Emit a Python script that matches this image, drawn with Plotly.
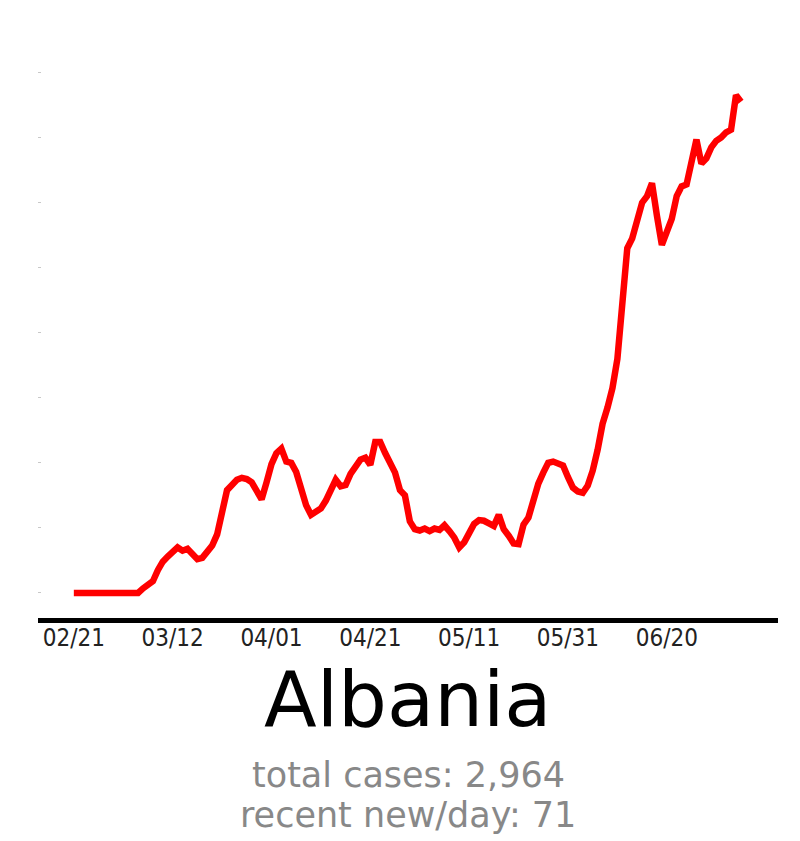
import pandas as pd
import plotly.graph_objects as go

# smoothed new cases per day, Albania, from 2020-02-21
start_date = "2020-02-21"
new_per_day = [
    0, 0, 0, 0, 0, 0, 0, 0, 0, 0, 0, 0, 0, 0,
    0.7, 1.2, 1.8, 3.5, 4.8, 5.6, 6.3, 7.0, 6.5, 6.8, 6.0, 5.2, 5.4, 6.5, 7.3, 9.0,
    13.0, 15.8, 16.6, 17.4, 17.7, 17.5, 17.0, 15.5, 14.4, 17.0,
    19.8, 21.5, 22.2, 20.2, 20.0, 18.6, 16.0, 13.5, 12.0, 12.6,
    13.0, 14.2, 16.0, 17.4, 16.4, 16.6, 18.3, 19.5, 20.5, 20.8,
    19.7, 23.2, 23.2, 21.5, 20.0, 18.5, 15.8, 15.0, 11.0, 9.8,
    9.6, 9.9, 9.5, 9.9, 9.7, 10.4, 9.5, 8.5, 7.0, 7.8,
    9.2, 10.6, 11.2, 11.1, 10.7, 10.3, 12.0, 9.8, 8.8, 7.6,
    7.5, 10.5, 11.6, 14.5, 16.8, 18.5, 20.0, 20.2, 19.8, 19.6,
    17.8, 16.2, 15.6, 15.4, 16.5, 18.8, 22.0, 26.0, 28.5, 31.5,
    36.0, 45.0, 53.0, 54.5, 57.5, 60.0, 61.0, 63.0, 58.0, 53.5,
    55.5, 57.5, 61.0, 62.5, 62.8, 66.5, 69.7, 66.0, 66.8, 68.5,
    69.5, 70.0, 70.8, 71.2, 76.5, 75.5,
]
tick_dates = ["2020-02-21", "2020-03-12", "2020-04-01", "2020-04-21",
              "2020-05-11", "2020-05-31", "2020-06-20"]
country = "Albania"
total_cases = 2964
recent_new = 71

dates = pd.date_range(start_date, periods=len(new_per_day), freq="D")

fig = go.Figure()
fig.add_trace(go.Scatter(x=dates, y=new_per_day, mode="lines",
                         line=dict(color="#ff0000", width=6.5), hoverinfo="skip"))

t0 = pd.Timestamp(start_date)
plot_h = 577.5  # px, plot area from y=40.5 to y=618


def py(y_px):
    # page pixel -> paper coordinate
    return (618 - y_px) / plot_h


fig.update_layout(
    width=800, height=841,
    margin=dict(l=38, r=22, t=40, b=223),
    plot_bgcolor="white", paper_bgcolor="white",
    showlegend=False,
    font=dict(family="DejaVu Sans"),
    xaxis=dict(
        range=[t0 - pd.Timedelta(days=7.25), t0 + pd.Timedelta(days=142.5)],
        tickvals=tick_dates, tickformat="%m/%d",
        showgrid=False, zeroline=False,
        showline=True, linecolor="black", linewidth=5,
        ticks="", ticklabelstandoff=-6,
        tickfont=dict(size=24, color="#222",
                      family="DejaVu Sans Condensed, DejaVu Sans"),
    ),
    yaxis=dict(
        range=[-3.85, 85], tickvals=list(range(0, 90, 10)),
        showticklabels=False, showgrid=False, zeroline=False,
        ticks="inside", ticklen=3, tickcolor="#c8c8c8", tickwidth=1,
    ),
    annotations=[
        dict(text=country, xref="paper", yref="paper", x=0.5, y=py(699),
             showarrow=False, font=dict(size=77, color="black"), yanchor="middle"),
        dict(text=f"total cases: {total_cases:,}", xref="paper", yref="paper",
             x=0.5, y=py(775), showarrow=False,
             font=dict(size=35, color="#888888"), yanchor="middle"),
        dict(text=f"recent new/day: {recent_new}", xref="paper", yref="paper",
             x=0.5, y=py(815), showarrow=False,
             font=dict(size=35, color="#888888"), yanchor="middle"),
    ],
)

fig.write_html("out.html", config={"displayModeBar": False},
               post_script="document.body.style.margin='0';document.body.style.overflow='hidden';")
